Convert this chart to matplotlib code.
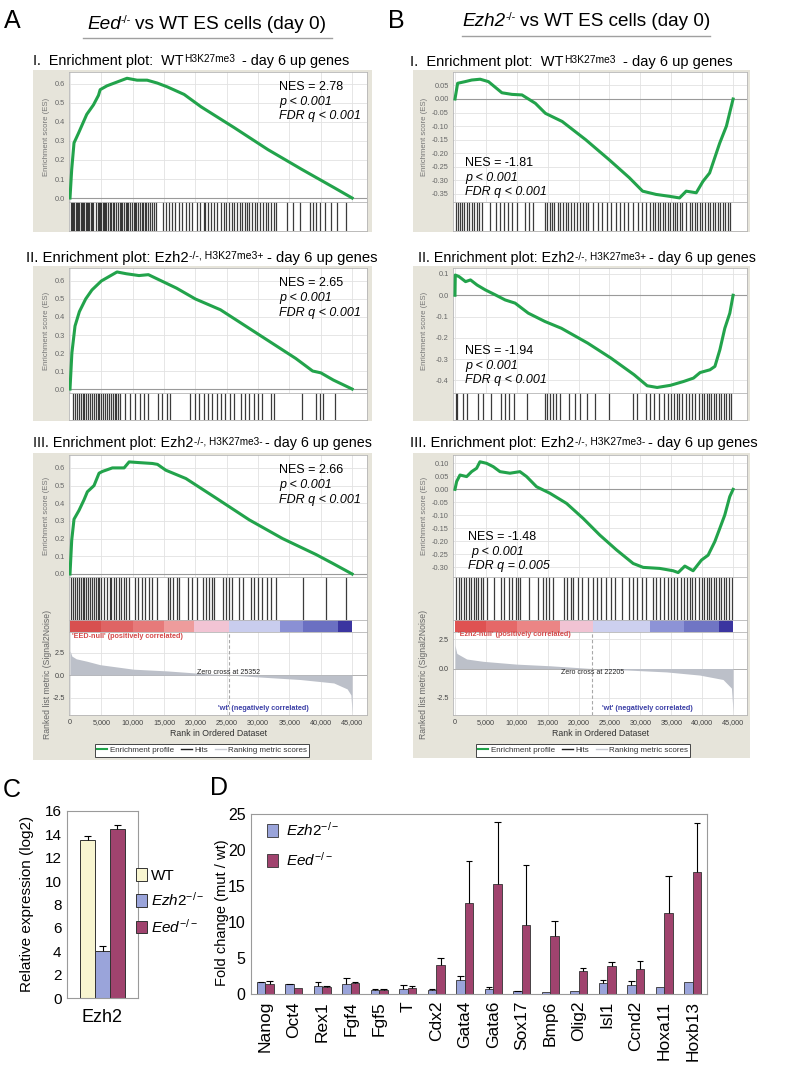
import numpy as np
import matplotlib
matplotlib.use('Agg')
import matplotlib.pyplot as plt
from matplotlib.patches import Rectangle, Patch
from matplotlib.lines import Line2D
from matplotlib import font_manager as fm

# ---------------------------------------------------------------- data
# GSEA running enrichment scores (rank in thousands, ES)
es_AI_rank_k = [0, 0.27, 0.64, 1.34, 2.67, 3.74, 4.54, 4.81, 5.88, 7.48, 9.09, 10.7, 12.3, 13.9, 15.5, 18.2, 20.9, 26.2, 31.55, 37.0, 42.2, 45.0]
es_AI = [0, 0.15, 0.29, 0.34, 0.44, 0.49, 0.54, 0.57, 0.59, 0.61, 0.63, 0.62, 0.62, 0.605, 0.585, 0.545, 0.48, 0.37, 0.255, 0.15, 0.053, 0.0]

es_AII_rank_k = [0, 0.3, 0.8, 1.5, 2.5, 3.5, 5.0, 6.5, 7.5, 9.0, 11.0, 12.5, 14.0, 17.0, 20.0, 24.0, 28.0, 32.0, 36.0, 38.7, 40.0, 42.0, 45.0]
es_AII = [0, 0.2, 0.35, 0.43, 0.5, 0.55, 0.6, 0.63, 0.65, 0.64, 0.63, 0.635, 0.61, 0.56, 0.5, 0.44, 0.35, 0.26, 0.17, 0.1, 0.09, 0.05, 0.0]

es_AIII_rank_k = [0, 0.27, 0.64, 1.44, 2.24, 2.77, 3.83, 4.63, 5.17, 6.76, 8.63, 9.43, 11.02, 13.15, 13.95, 15.28, 18.48, 23.27, 28.6, 33.92, 39.25, 41.9, 45.0]
es_AIII = [0, 0.19, 0.31, 0.36, 0.42, 0.465, 0.5, 0.57, 0.58, 0.6, 0.6, 0.634, 0.63, 0.625, 0.62, 0.587, 0.54, 0.43, 0.306, 0.2, 0.11, 0.06, 0.0]

es_BI_rank_k = [0, 0.43, 1.63, 2.71, 4.07, 5.42, 7.59, 9.22, 10.84, 13.01, 14.64, 17.35, 21.14, 24.94, 28.19, 30.36, 32.53, 34.7, 36.33, 37.41, 39.04, 40.12, 41.2, 42.83, 43.92, 45.0]
es_BI = [0, 0.058, 0.064, 0.07, 0.073, 0.064, 0.023, 0.017, 0.015, -0.016, -0.053, -0.083, -0.15, -0.224, -0.29, -0.34, -0.352, -0.359, -0.365, -0.34, -0.346, -0.304, -0.273, -0.163, -0.1, 0.0]

es_BII_rank_k = [0, 0.05, 0.64, 1.71, 2.51, 3.58, 4.92, 6.52, 8.12, 9.73, 11.86, 14.54, 17.21, 21.49, 25.23, 28.97, 31.1, 32.71, 34.85, 36.98, 38.59, 39.66, 41.26, 42.06, 42.86, 43.66, 44.47, 45.0]
es_BII = [0, 0.095, 0.088, 0.064, 0.072, 0.048, 0.025, 0.002, -0.022, -0.037, -0.084, -0.123, -0.155, -0.225, -0.295, -0.373, -0.425, -0.433, -0.423, -0.405, -0.389, -0.363, -0.35, -0.334, -0.256, -0.155, -0.084, 0.0]

es_BIII_rank_k = [0, 0.27, 0.81, 1.89, 2.69, 3.5, 4.04, 5.12, 6.2, 7.28, 8.89, 10.51, 11.59, 13.2, 15.36, 18.05, 20.75, 23.44, 26.14, 28.83, 30.45, 33.14, 35.3, 36.11, 37.19, 38.53, 39.88, 40.96, 42.04, 42.85, 43.65, 44.46, 45.0]
es_BIII = [0, 0.03, 0.055, 0.049, 0.068, 0.081, 0.106, 0.1, 0.087, 0.068, 0.062, 0.068, 0.049, 0.01, -0.015, -0.054, -0.112, -0.176, -0.233, -0.285, -0.3, -0.304, -0.313, -0.32, -0.295, -0.313, -0.272, -0.253, -0.201, -0.15, -0.099, -0.028, 0.0]

# gene-set hit positions (rank in thousands)
hits_AI_k = [0.1, 0.3, 0.5, 0.7, 0.9, 1.1, 1.3, 1.5, 1.7, 1.9, 2.1, 2.3, 2.5, 2.7, 2.9, 3.1, 3.3, 3.5, 3.7,
             4.2, 4.4, 4.6, 4.8, 5.0, 5.2, 5.4, 5.6, 5.8, 6.0, 6.3, 6.6, 6.8, 7.0, 7.3, 7.6, 7.9, 8.1, 8.3, 8.6,
             8.9, 9.1, 9.3, 9.6, 9.9, 10.2, 10.4, 10.6, 10.9, 11.2, 11.5, 11.7, 11.9, 12.2, 12.5, 12.8, 13.1, 13.4, 13.7,
             14.9, 15.3, 15.8, 16.3, 16.8, 17.4, 17.9, 18.5, 19.0, 19.4, 20.2, 20.8, 21.3, 21.6, 22.0, 22.5, 22.9, 23.4,
             24.1, 24.5, 24.9, 25.4, 25.8, 26.2, 26.6, 27.1, 27.5, 27.9, 28.3, 28.6, 29.0, 29.5, 29.9, 30.3, 30.8,
             31.2, 31.6, 32.0, 32.5, 32.9, 34.6, 35.5, 36.7, 38.3, 38.8, 39.3, 39.9, 40.6, 41.7, 42.6, 44.0]
hits_AII_k = [0.5, 0.8, 1.1, 1.4, 1.7, 2.0, 2.3, 2.6, 2.9, 3.2, 3.5, 3.8, 4.1, 4.4, 4.7, 5.0, 5.3, 5.6, 5.9, 6.2,
              6.5, 6.8, 7.1, 7.4, 7.7, 8.0, 8.8, 9.6, 10.4, 11.1, 11.8, 12.5, 14.0, 14.6, 15.5, 16.0, 19.2, 19.9,
              20.6, 21.3, 22.0, 22.7, 23.4, 24.1, 24.8, 25.5, 26.2, 27.2, 27.9, 28.6, 29.3, 30.0, 30.6, 32.0, 32.5,
              37.0, 39.2, 39.9, 40.4, 42.2]
hits_AIII_k = [0.2, 0.5, 0.8, 1.1, 1.4, 1.7, 2.0, 2.3, 2.6, 2.9, 3.2, 3.5, 3.8, 4.1, 4.4, 4.7, 5.0, 5.4, 5.9, 6.3,
               6.6, 7.0, 7.4, 7.8, 8.2, 8.6, 9.0, 9.4, 10.4, 10.9, 11.5, 12.0, 12.6, 13.1, 13.8, 15.6, 16.0, 16.5,
               17.0, 17.4, 18.8, 19.5, 20.2, 21.2, 21.7, 22.2, 22.6, 23.0, 24.4, 24.9, 25.4, 25.8, 26.9, 27.6,
               28.8, 29.4, 30.0, 30.7, 31.4, 32.0, 32.8, 37.1, 40.9, 44.1]
hits_BI_k = [0.2, 0.5, 0.8, 1.1, 1.5, 1.9, 2.3, 2.7, 3.1, 3.5, 3.9, 4.3, 5.6, 6.6, 7.3, 7.9, 8.6, 9.3, 10.0, 11.3,
             11.9, 12.7, 14.5, 14.9, 15.3, 15.7, 16.1, 16.6, 17.0, 17.4, 17.9, 18.3, 18.8, 19.2, 19.7, 20.2, 20.7,
             21.2, 21.6, 22.4, 23.1, 23.8, 24.6, 25.2, 26.0, 26.7, 27.4, 28.0, 28.8, 29.6, 30.3, 30.9, 31.6, 32.0,
             32.4, 32.8, 33.2, 33.6, 34.0, 34.4, 34.8, 35.2, 35.6, 36.0, 36.4, 36.8, 37.3, 38.0, 38.4, 38.8, 39.2,
             39.6, 40.0, 40.5, 40.9, 41.3, 41.7, 42.1, 42.5, 42.9, 43.3, 43.7, 44.1, 44.5]
hits_BII_k = [0.1, 0.4, 1.3, 2.0, 3.8, 4.5, 5.9, 7.4, 8.1, 8.8, 9.5, 11.7, 14.5, 14.9, 15.4, 15.9, 16.4, 17.0, 18.4,
              19.5, 20.2, 21.3, 22.7, 24.9, 28.8, 29.5, 30.9, 31.5, 32.2, 33.0, 33.8, 34.4, 35.0, 35.5, 35.9, 36.3,
              36.8, 37.3, 37.8, 38.3, 38.8, 39.5, 39.9, 40.3, 40.7, 41.1, 41.5, 41.9, 42.3, 42.7, 43.1, 43.5, 43.9,
              44.3, 44.6]
hits_BIII_k = [0.2, 0.6, 1.0, 1.4, 1.8, 2.2, 2.6, 3.0, 3.4, 3.8, 4.2, 4.5, 5.2, 6.3, 7.4, 8.0, 8.8, 9.3, 9.8, 10.2,
               10.6, 12.0, 13.4, 14.2, 14.7, 15.2, 15.9, 17.7, 18.2, 18.7, 19.1, 19.9, 20.6, 21.6, 22.3, 23.0, 23.7,
               24.5, 25.2, 25.9, 27.0, 28.1, 28.8, 29.5, 30.2, 30.9, 32.0, 32.6, 33.2, 33.8, 34.4, 35.0, 35.5, 35.9,
               36.6, 37.1, 37.6, 38.0, 38.4, 38.8, 39.5, 39.9, 40.3, 40.7, 41.1, 41.5, 41.9, 42.3, 42.7, 43.1, 43.5,
               43.9, 44.3, 44.8]

# ranked list metric (Signal2Noise)
metric_A_rank_k = [0, 0.3, 1.0, 2.66, 4.79, 10.1, 15.44, 20.77, 25.35, 31.42, 36.75, 42.07, 44.2, 44.8, 45.0]
metric_A = [2.7, 2.1, 1.8, 1.54, 1.15, 0.65, 0.46, 0.19, 0.0, -0.27, -0.5, -0.88, -1.54, -2.2, -4.2]
metric_B_rank_k = [0, 0.3, 1.89, 4.58, 9.97, 15.36, 22.2, 28.83, 34.22, 39.6, 43.37, 44.73, 45.0]
metric_B = [2.0, 1.3, 0.82, 0.62, 0.38, 0.24, 0.0, -0.15, -0.29, -0.56, -0.94, -1.68, -3.7]
zero_cross_A = 25352
zero_cross_B = 22205

# heat-bar segments (rank in thousands)
cbar_A_edges_k = [0, 5, 10, 15, 19.7, 25.4, 33.5, 37.2, 42.8, 45]
cbar_B_edges_k = [0, 5, 10, 17, 22.4, 31.5, 37, 42.8, 45]

nes_A = ['2.78', '2.65', '2.66']
nes_B = ['-1.81', '-1.94', '-1.48']
fdr_B = ['< 0.001', '< 0.001', '= 0.005']

# panel C
c_groups = ['WT', 'Ezh2-/-', 'Eed-/-']
c_expr = [13.5, 4.0, 14.5]
c_err = [0.37, 0.43, 0.26]

# panel D
genes = ['Nanog', 'Oct4', 'Rex1', 'Fgf4', 'Fgf5', 'T', 'Cdx2', 'Gata4', 'Gata6', 'Sox17', 'Bmp6',
         'Olig2', 'Isl1', 'Ccnd2', 'Hoxa11', 'Hoxb13']
ezh2_fc = [1.6, 1.35, 1.1, 1.45, 0.55, 0.65, 0.55, 1.95, 0.65, 0.4, 0.3, 0.45, 1.5, 1.3, 0.95, 1.6]
ezh2_err = [0.05, 0.1, 0.5, 0.75, 0.1, 0.6, 0.1, 0.6, 0.3, 0.05, 0.0, 0.0, 0.4, 0.45, 0.0, 0.0]
eed_fc = [1.45, 0.85, 1.0, 1.55, 0.5, 0.85, 4.0, 12.6, 15.3, 9.55, 8.1, 3.2, 3.85, 3.5, 11.3, 17.0]
eed_err = [0.35, 0.0, 0.1, 0.05, 0.25, 0.25, 0.95, 5.9, 8.6, 8.35, 2.1, 0.45, 0.6, 1.1, 5.1, 6.7]

# ---------------------------------------------------------------- setup
W, H = 800, 1075
names = {f.name for f in fm.fontManager.ttflist}
SANS = 'Liberation Sans' if 'Liberation Sans' in names else 'DejaVu Sans'
NARROW = 'Liberation Sans Narrow' if 'Liberation Sans Narrow' in names else SANS

plt.rcParams['font.family'] = [SANS, 'DejaVu Sans']
plt.rcParams['mathtext.fontset'] = 'custom'
plt.rcParams['mathtext.rm'] = SANS
plt.rcParams['mathtext.it'] = SANS + ':italic'
plt.rcParams['mathtext.bf'] = SANS + ':bold'

fig = plt.figure(figsize=(W / 100, H / 100), dpi=100)
fig.patch.set_facecolor('white')
renderer = fig.canvas.get_renderer()

GREEN = '#22a34b'
PANEL_BG = '#e6e4da'
GRID = '#e2e2e2'
SPINE = '#b5b5b5'
C_WT = '#f8f5d0'
C_EZH2 = '#9aa4da'
C_EED = '#a0436e'


def R(x0, y0, x1, y1):
    return [x0 / W, 1 - y1 / H, (x1 - x0) / W, (y1 - y0) / H]


def fx(x):
    return x / W


def fy(y):
    return 1 - y / H


def rich(x, y, pieces, target_w=None, family=None, color='black'):
    fam = family or [SANS, 'DejaVu Sans']

    def draw(scale):
        objs = []
        cx = x
        for txt, size, rise, style, gap in pieces:
            t = fig.text(fx(cx), fy(y - rise * scale), txt, fontsize=size * scale, fontstyle=style,
                         family=fam, color=color, ha='left', va='baseline')
            w = t.get_window_extent(renderer=renderer).width
            objs.append(t)
            cx += w + gap * scale
        return objs, cx - x - pieces[-1][4] * scale

    objs, w = draw(1.0)
    if target_w:
        for o in objs:
            o.remove()
        objs, w = draw(target_w / w)
    return objs


def add_box(x0, y0, x1, y1, color):
    fig.add_artist(Rectangle((fx(x0), fy(y1)), (x1 - x0) / W, (y1 - y0) / H, transform=fig.transFigure,
                             facecolor=color, edgecolor='none', zorder=-10))


def base_ax(rect, xlim):
    ax = fig.add_axes(R(*rect))
    ax.set_xlim(*xlim)
    ax.set_facecolor('white')
    for s in ax.spines.values():
        s.set_color(SPINE)
        s.set_linewidth(0.6)
    return ax


XT = list(range(0, 45001, 5000))


def es_panel(rect, xlim, rank_k, es, ylim, yticks, fmt):
    ax = base_ax(rect, xlim)
    ax.set_ylim(*ylim)
    ax.set_xticks(XT)
    ax.set_yticks(yticks)
    ax.set_yticklabels([fmt % v for v in yticks])
    ax.tick_params(axis='x', length=0, labelbottom=False)
    ax.tick_params(axis='y', length=0, labelsize=5.3, labelcolor='#666', pad=3)
    ax.grid(True, color=GRID, lw=0.6)
    ax.set_axisbelow(True)
    ax.axhline(0, color='#9a9a9a', lw=0.8, zorder=1)
    ax.plot(np.array(rank_k) * 1000, es, color=GREEN, lw=2.2, solid_joinstyle='round', zorder=3)
    return ax


def hits_panel(rect, xlim, hits_k):
    ax = base_ax(rect, xlim)
    ax.set_ylim(0, 1)
    ax.set_xticks([])
    ax.set_yticks([])
    ax.vlines(np.array(hits_k) * 1000, 0, 1, color='#1a1a1a', lw=0.9, alpha=0.85)
    return ax


def cbar_panel(rect, xlim, edges_k, colors):
    ax = base_ax(rect, xlim)
    ax.set_ylim(0, 1)
    ax.set_xticks([])
    ax.set_yticks([])
    for e0, e1, c in zip(edges_k[:-1], edges_k[1:], colors):
        ax.axvspan(e0 * 1000, e1 * 1000, color=c, lw=0)
    return ax


def metric_panel(rect, xlim, rank_k, metric, ylim, zero_cross):
    ax = base_ax(rect, xlim)
    ax.set_ylim(*ylim)
    r = np.array(rank_k) * 1000
    ax.fill_between(r, 0, metric, color='#bcc0c9', lw=0, zorder=2)
    ax.axhline(0, color='#a8a8a8', lw=0.6, zorder=1)
    ax.axvline(zero_cross, color='#a8a8a8', lw=0.8, ls=(0, (3, 2)), zorder=3)
    ax.set_yticks([-2.5, 0, 2.5])
    ax.set_yticklabels(['-2.5', '0.0', '2.5'])
    ax.set_xticks(XT)
    ax.set_xticklabels(['{:,}'.format(v) for v in XT])
    ax.tick_params(axis='both', length=0, labelsize=5.2, labelcolor='#444', pad=3)
    ax.grid(True, color=GRID, lw=0.6)
    ax.set_axisbelow(True)
    ax.set_xlabel('Rank in Ordered Dataset', fontsize=6.3, color='#333', labelpad=2)
    return ax


# ---------------------------------------------------------------- GSEA layout
COLS = {
    'A': dict(box=(33, 372), ax=(69, 367), xlim=(-160, 47370), ylab_x=47, nes_x=279,
              cbar_colors=['#d8504f', '#df6464', '#e67a7a', '#ee9c9c', '#f2c4d4', '#c9cdee', '#8a90d4', '#6b70c2', '#3b35a0']),
    'B': dict(box=(413, 750), ax=(453, 747), xlim=(-320, 47250), ylab_x=424, nes_x=465,
              cbar_colors=['#df5252', '#e56868', '#eb8585', '#f1c3d3', '#cdd0ef', '#8d93d6', '#7075c4', '#3b35a0']),
}
ROWS = {
    'I': dict(box=(70, 232), es=(72, 202), hits=(202, 231)),
    'II': dict(box=(266, 421), es=(268, 393), hits=(393, 420)),
    'III': dict(box=(453, 760), es=(455, 577), hits=(577, 620), cbar=(620, 632), metric=(632, 715)),
}

A_ticks = [0.0, 0.1, 0.2, 0.3, 0.4, 0.5, 0.6]
panels = [
    ('A', 'I', es_AI_rank_k, es_AI, hits_AI_k, (-0.021, 0.663), A_ticks, '%.1f', 87),
    ('A', 'II', es_AII_rank_k, es_AII, hits_AII_k, (-0.022, 0.672), A_ticks, '%.1f', 283),
    ('A', 'III', es_AIII_rank_k, es_AIII, hits_AIII_k, (-0.017, 0.673), A_ticks, '%.1f', 470),
    ('B', 'I', es_BI_rank_k, es_BI, hits_BI_k, (-0.38, 0.0996),
     [-0.35, -0.3, -0.25, -0.2, -0.15, -0.1, -0.05, 0.0, 0.05], '%.2f', 163),
    ('B', 'II', es_BII_rank_k, es_BII, hits_BII_k, (-0.459, 0.128),
     [-0.4, -0.3, -0.2, -0.1, 0.0, 0.1], '%.1f', 351),
    ('B', 'III', es_BIII_rank_k, es_BIII, hits_BIII_k, (-0.337, 0.132),
     [-0.3, -0.25, -0.2, -0.15, -0.1, -0.05, 0.0, 0.05, 0.1], '%.2f', 537),
]

for i, (col, row, rk, es, hits, ylim, yt, fmt, nes_y) in enumerate(panels):
    C = COLS[col]
    Rw = ROWS[row]
    bx0, bx1 = C['box']
    by0, by1 = Rw['box']
    if col == 'B' and row == 'III':
        by1 = 758
    add_box(bx0, by0, bx1, by1, PANEL_BG)
    ax0, ax1 = C['ax']
    es_panel((ax0, Rw['es'][0], ax1, Rw['es'][1]), C['xlim'], rk, es, ylim, yt, fmt)
    hits_panel((ax0, Rw['hits'][0], ax1, Rw['hits'][1]), C['xlim'], hits)
    fig.text(fx(C['ylab_x']), fy((Rw['es'][0] + Rw['es'][1]) / 2), 'Enrichment score (ES)', rotation=90,
             fontsize=5.6, color='#777', ha='center', va='center')
    # statistics
    idx = ['I', 'II', 'III'].index(row)
    if col == 'A':
        nes, fdr = nes_A[idx], '< 0.001'
    else:
        nes, fdr = nes_B[idx], fdr_B[idx]
    nx = C['nes_x'] + (3 if (col == 'B' and row == 'III') else 0)
    fig.text(fx(nx), fy(nes_y), 'NES = ' + nes, fontsize=9, ha='left', va='center')
    fig.text(fx(nx + (3 if (col == 'B' and row == 'III') else 0)), fy(nes_y + 15), 'p < 0.001',
             fontsize=9, style='italic', ha='left', va='center')
    fig.text(fx(nx), fy(nes_y + 29.5), 'FDR q ' + fdr, fontsize=9, style='italic', ha='left', va='center')

# bottom parts of panel III (heat bar + ranked metric)
for col, rk, met, ylim, zc, edges, pos_lab, pos_xy, wt_xy, zc_y in [
        ('A', metric_A_rank_k, metric_A, (-4.44, 4.78), zero_cross_A, cbar_A_edges_k,
         "'EED-null' (positively correlated)", (72, 637), (218, 708), 673),
        ('B', metric_B_rank_k, metric_B, (-3.99, 3.14), zero_cross_B, cbar_B_edges_k,
         "'Ezh2-null' (positively correlated)", (458, 635), (602, 708), 673)]:
    C = COLS[col]
    Rw = ROWS['III']
    ax0, ax1 = C['ax']
    cbar_panel((ax0, Rw['cbar'][0], ax1, Rw['cbar'][1]), C['xlim'], edges, C['cbar_colors'])
    metric_panel((ax0, Rw['metric'][0], ax1, Rw['metric'][1]), C['xlim'], rk, met, ylim, zc)
    fig.text(fx(C['ylab_x']), fy(674), 'Ranked list metric (Signal2Noise)', rotation=90,
             fontsize=6.2, color='#666', ha='center', va='center')
    fig.text(fx(pos_xy[0]), fy(pos_xy[1]), pos_lab, fontsize=5.2, color='#d44a4a', ha='left', va='center',
             fontweight='bold')
    fig.text(fx(wt_xy[0]), fy(wt_xy[1]), "'wt' (negatively correlated)", fontsize=5.2, color='#3b3fa6',
             ha='left', va='center', fontweight='bold')
    zx = ax0 + (zc - C['xlim'][0]) / (C['xlim'][1] - C['xlim'][0]) * (ax1 - ax0)
    fig.text(fx(zx), fy(zc_y), 'Zero cross at %d' % zc, fontsize=5.0, color='#222', ha='center', va='center')
    handles = [Line2D([], [], color=GREEN, lw=1.5), Line2D([], [], color='#222', lw=1.0),
               Line2D([], [], color='#c8cbd2', lw=1.0)]
    cx = 202 if col == 'A' else 583
    leg = fig.legend(handles, ['Enrichment profile', 'Hits', 'Ranking metric scores'], ncol=3,
                     loc='center', bbox_to_anchor=(fx(cx), fy(750.5)), fontsize=5.8, frameon=True,
                     fancybox=False, edgecolor='#444', framealpha=1, borderpad=0.3, handlelength=1.3,
                     handletextpad=0.3, columnspacing=0.9)
    leg.get_frame().set_linewidth(0.7)
    for t in leg.get_texts():
        t.set_color('#333')

# ---------------------------------------------------------------- titles
fig.text(fx(4), fy(28), 'A', fontsize=18, ha='left', va='baseline')
fig.text(fx(388), fy(28), 'B', fontsize=18, ha='left', va='baseline')
fig.text(fx(3), fy(797), 'C', fontsize=18, ha='left', va='baseline')
fig.text(fx(210), fy(795), 'D', fontsize=18, ha='left', va='baseline')

rich(87, 29, [('Eed', 13, 0, 'italic', 0), ('-/-', 7.5, 6, 'normal', 4),
              ('vs WT ES cells (day 0)', 13, 0, 'normal', 0)], target_w=240)
rich(462, 26.5, [('Ezh2', 13, 0, 'italic', 0), ('-/-', 7.5, 6, 'normal', 4),
                 ('vs WT ES cells (day 0)', 13, 0, 'normal', 0)], target_w=248)
fig.add_artist(Line2D([fx(83), fx(332)], [fy(37.5), fy(37.5)], color='#a0a0a0', lw=1.0))
fig.add_artist(Line2D([fx(462), fx(710)], [fy(35.5), fy(35.5)], color='#a0a0a0', lw=1.0))

NF = [NARROW, SANS, 'DejaVu Sans']
sub_specs = [
    (33, 65, 'I.  Enrichment plot:  WT', 'H3K27me3', 8, 317),
    (410, 66, 'I.  Enrichment plot:  WT', 'H3K27me3', 8, 322),
    (26, 262, 'II. Enrichment plot: Ezh2', '-/-, H3K27me3+', 3, 352),
    (418, 262, 'II. Enrichment plot: Ezh2', '-/-, H3K27me3+', 3, 337),
    (33, 447, 'III. Enrichment plot: Ezh2', '-/-, H3K27me3-', 3, 339),
    (410, 447, 'III. Enrichment plot: Ezh2', '-/-, H3K27me3-', 3, 347),
]
for x, y, main, sup, gap, tw in sub_specs:
    rich(x, y, [(main, 12.5, 0, 'normal', 1), (sup, 8.8, 3.5, 'normal', gap),
                ('- day 6 up genes', 12.5, 0, 'normal', 0)], target_w=tw, family=NF)

# ---------------------------------------------------------------- panel C
axC = fig.add_axes(R(67, 811, 138, 998))
c_x = [-0.21, 0.0, 0.21]
c_cols = [C_WT, C_EZH2, C_EED]
axC.bar(c_x, c_expr, 0.21, color=c_cols, edgecolor='#333', lw=0.7, zorder=2)
for xx, v, e in zip(c_x, c_expr, c_err):
    axC.vlines(xx, v, v + e, color='black', lw=0.8, zorder=3)
    axC.hlines(v + e, xx - 0.055, xx + 0.055, color='black', lw=0.8, zorder=3)
axC.set_xlim(-0.5, 0.5)
axC.set_ylim(0, 16)
axC.set_yticks(range(0, 17, 2))
axC.set_xticks([])
axC.tick_params(axis='y', length=0, labelsize=11, pad=4)
for s in axC.spines.values():
    s.set_color('#9a9a9a')
    s.set_linewidth(0.8)
fig.text(fx(27), fy(904), 'Relative expression (log2)', rotation=90, fontsize=11, ha='center', va='center')
fig.text(fx(102.5), fy(1017), 'Ezh2', fontsize=13, ha='center', va='center')
c_labels = ['WT', r'$\it{Ezh2}^{-/-}$', r'$\it{Eed}^{-/-}$']
legC = fig.legend([Patch(facecolor=c, edgecolor='#333', lw=0.7) for c in c_cols], c_labels,
                  loc='upper left', bbox_to_anchor=(fx(136), fy(868)), frameon=False, fontsize=11,
                  handlelength=0.75, handleheight=0.9, handletextpad=0.25, labelspacing=0.55, borderaxespad=0,
                  borderpad=0)

# ---------------------------------------------------------------- panel D
axD = fig.add_axes(R(251, 814, 707, 994))
xd = np.arange(len(genes))
bw = 0.3
axD.bar(xd - bw / 2, ezh2_fc, bw, color=C_EZH2, edgecolor='#333', lw=0.6, zorder=2)
axD.bar(xd + bw / 2, eed_fc, bw, color=C_EED, edgecolor='#333', lw=0.6, zorder=2)
for off, vals, errs in [(-bw / 2, ezh2_fc, ezh2_err), (bw / 2, eed_fc, eed_err)]:
    for xx, v, e in zip(xd + off, vals, errs):
        if e > 0:
            axD.vlines(xx, v, v + e, color='black', lw=0.8, zorder=3)
            axD.hlines(v + e, xx - 0.12, xx + 0.12, color='black', lw=0.8, zorder=3)
axD.set_xlim(-0.5, len(genes) - 0.5)
axD.set_ylim(0, 25)
axD.set_yticks(range(0, 26, 5))
axD.set_xticks(xd)
axD.set_xticklabels(genes, rotation=90, fontsize=12.5)
axD.tick_params(axis='x', length=0, pad=5)
axD.tick_params(axis='y', length=0, labelsize=11.5, pad=4)
for s in axD.spines.values():
    s.set_color('#9a9a9a')
    s.set_linewidth(0.8)
fig.text(fx(222), fy(913), 'Fold change (mut / wt)', rotation=90, fontsize=10.5, ha='center', va='center')
axD.legend([Patch(facecolor=C_EZH2, edgecolor='#333', lw=0.6), Patch(facecolor=C_EED, edgecolor='#333', lw=0.6)],
           [r'$\it{Ezh2}^{-/-}$', r'$\it{Eed}^{-/-}$'], loc='upper left', bbox_to_anchor=(0.035, 0.96),
           frameon=False, fontsize=11, handlelength=0.75, handleheight=0.9, handletextpad=0.5,
           labelspacing=0.75, borderaxespad=0, borderpad=0)

fig.savefig('out.png', dpi=100, facecolor='white')
